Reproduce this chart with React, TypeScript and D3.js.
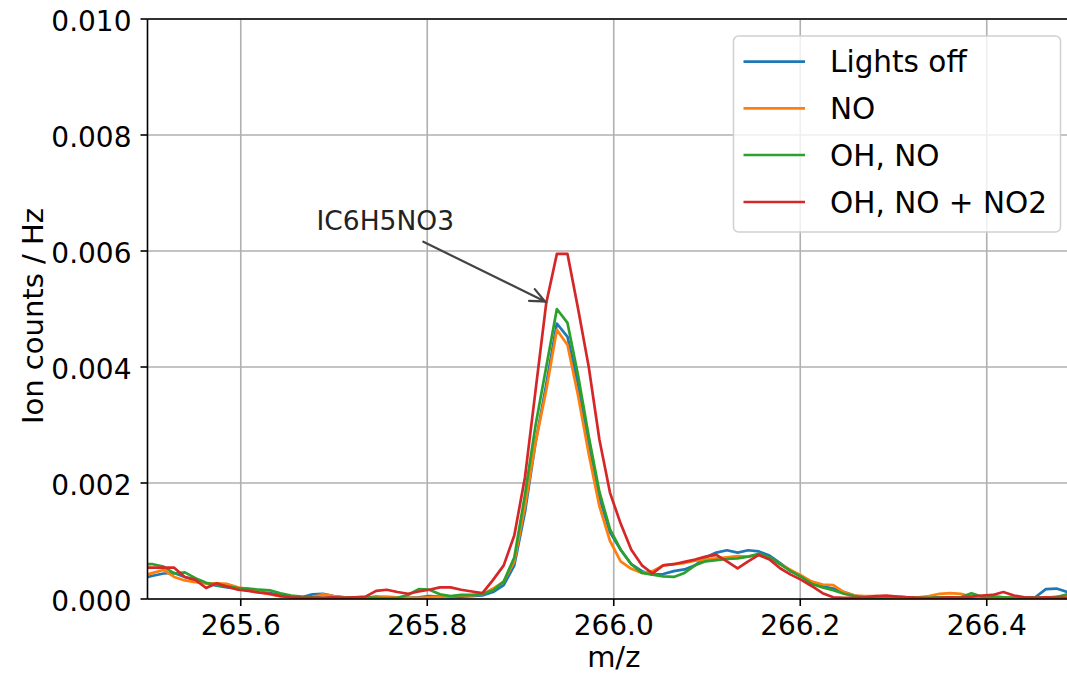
import React from "react";
import * as d3 from "d3";

const mz = [
  265.4944, 265.5058, 265.5172, 265.5286, 265.54, 265.5514, 265.5628, 265.5742, 265.5856, 265.597,
  265.6084, 265.6198, 265.6312, 265.6426, 265.654, 265.6654, 265.6768, 265.6882, 265.6996, 265.711,
  265.7224, 265.7338, 265.7452, 265.7566, 265.768, 265.7794, 265.7908, 265.8022, 265.8136, 265.825,
  265.8364, 265.8478, 265.8592, 265.8706, 265.882, 265.8934, 265.9048, 265.9162, 265.9276, 265.939,
  265.9504, 265.9618, 265.9732, 265.9846, 265.996, 266.0074, 266.0188, 266.0302, 266.0416, 266.053,
  266.0644, 266.0758, 266.0872, 266.0986, 266.11, 266.1214, 266.1328, 266.1442, 266.1556, 266.167,
  266.1784, 266.1898, 266.2012, 266.2126, 266.224, 266.2354, 266.2468, 266.2582, 266.2696, 266.281,
  266.2924, 266.3038, 266.3152, 266.3266, 266.338, 266.3494, 266.3608, 266.3722, 266.3836, 266.395,
  266.4064, 266.4178, 266.4292, 266.4406, 266.452, 266.4634, 266.4748, 266.4862, 266.4976, 266.509,
];

const lightsOff = [
  0.00036, 0.0004, 0.00044, 0.00045, 0.00038, 0.00033, 0.00027, 0.00023, 0.0002, 0.00018,
  0.00015, 0.00012, 0.0001, 0.00007, 0.00004, 0.00003, 0.00008, 0.00009, 0.00005, 0.00003,
  0.00003, 0.00002, 0.00004, 0.00003, 0.00002, 0.00002, 0.00003, 0.00005, 0.00004, 0.00003,
  0.00004, 0.00005, 0.00006, 0.00012, 0.00024, 0.00058, 0.0015, 0.0027, 0.0037, 0.00475,
  0.00452, 0.0037, 0.0027, 0.00175, 0.00115, 0.00085, 0.0006, 0.00048, 0.00042, 0.00043,
  0.00048, 0.00051, 0.00058, 0.00072, 0.0008, 0.00084, 0.0008, 0.00084, 0.00082, 0.00075,
  0.00062, 0.00048, 0.0004, 0.00027, 0.00022, 0.00018, 0.00012, 0.00006, 0.00003, 0.00003,
  0.00002, 0.00002, 0.00003, 0.00002, 0.00002, 0.00003, 0.00002, 0.00003, 0.00002, 0.00003,
  0.00004, 0.00003, 0.00002, 0.00002, 0.00003, 0.00017, 0.00018, 0.00012, 0.00008, 0.00005,
];

const noOnly = [
  0.0004, 0.00045, 0.0005, 0.00038, 0.00032, 0.00029, 0.00027, 0.00027, 0.00026, 0.0002,
  0.00017, 0.00012, 0.00008, 0.00005, 0.00003, 0.00002, 0.00003, 0.00008, 0.00005, 0.00003,
  0.00002, 0.00002, 0.00003, 0.00004, 0.00003, 0.00002, 0.00002, 0.00003, 0.00004, 0.00004,
  0.00006, 0.00006, 0.00008, 0.00018, 0.0003, 0.00065, 0.0016, 0.0027, 0.0036, 0.00464,
  0.00438, 0.0035, 0.0025, 0.0016, 0.001, 0.00065, 0.00052, 0.00045, 0.00048, 0.00058,
  0.0006, 0.00062, 0.00066, 0.00068, 0.0007, 0.00072, 0.00074, 0.00073, 0.00076, 0.0007,
  0.0006, 0.0005, 0.0004, 0.0003, 0.00025, 0.00024, 0.00012, 0.00006, 0.00005, 0.00005,
  0.00003, 0.00002, 0.00002, 0.00003, 0.00005, 0.00009, 0.0001, 0.00009, 0.00004, 0.00003,
  0.00002, 0.00003, 0.00002, 0.00003, 0.00002, 0.00002, 0.00004, 0.00006, 0.00003, 0.00002,
];

const ohNo = [
  0.0006, 0.0006, 0.00056, 0.00044, 0.00046, 0.00036, 0.00028, 0.00024, 0.00022, 0.00019,
  0.00018, 0.00016, 0.00015, 0.0001, 0.00006, 0.00004, 0.00003, 0.00002, 0.00002, 0.00002,
  0.00003, 0.00003, 0.00002, 0.00001, 0.00002, 0.00007, 0.00017, 0.00016, 0.00008, 0.00005,
  0.00007, 0.00007, 0.00008, 0.00015, 0.0003, 0.00072, 0.0018, 0.003, 0.004, 0.005,
  0.00476, 0.00385, 0.0028, 0.00185, 0.0012, 0.00085, 0.0006, 0.00045, 0.00042, 0.00039,
  0.00038, 0.00045, 0.00058, 0.00065, 0.00067, 0.00069, 0.0007, 0.00073, 0.00078, 0.00072,
  0.0006, 0.00048, 0.00038, 0.00026, 0.0002, 0.00015, 0.00009, 0.00005, 0.00003, 0.00002,
  0.00003, 0.00004, 0.00003, 0.00002, 0.00002, 0.00003, 0.00003, 0.00003, 0.0001, 0.00004,
  0.00004, 0.00003, 0.00002, 0.00003, 0.00003, 0.00002, 0.00003, 0.00008, 0.0001, 0.00006,
];

const ohNoNo2 = [
  0.00054, 0.00054, 0.00054, 0.00054, 0.00038, 0.00033, 0.00019, 0.00027, 0.00021, 0.00016,
  0.00014, 0.00011, 0.00009, 0.00005, 0.00003, 0.00002, 0.00002, 0.00002, 0.00003, 0.00002,
  0.00003, 0.00004, 0.00014, 0.00016, 0.00012, 0.00009, 0.00013, 0.00016, 0.0002, 0.0002,
  0.00016, 0.00013, 0.0001, 0.00033, 0.00058, 0.0011, 0.0021, 0.0036, 0.0051, 0.00595,
  0.00595, 0.005, 0.004, 0.00275, 0.00183, 0.0013, 0.00085, 0.00058, 0.00044, 0.00058,
  0.0006, 0.00064, 0.00068, 0.00073, 0.00076, 0.00065, 0.00053, 0.00065, 0.00076, 0.00068,
  0.00053, 0.00042, 0.00033, 0.00022, 0.0001, 0.00003, 0.00002, 0.00002, 0.00003, 0.00005,
  0.00006, 0.00004, 0.00003, 0.00002, 0.00001, 0.00002, 0.00003, 0.00002, 0.00004, 0.00006,
  0.00007, 0.00012, 0.00006, 0.00003, 0.00002, 0.00003, 0.00002, 0.00002, 0.00003, 0.00002,
];

const seriesNames = ["Lights off", "NO", "OH, NO", "OH, NO + NO2"];
const seriesValues = [lightsOff, noOnly, ohNo, ohNoNo2];
const seriesColors = ["#1f77b4", "#ff7f0e", "#2ca02c", "#d62728"];

const xTicks = [265.6, 265.8, 266.0, 266.2, 266.4];
const yTicks = [0, 0.002, 0.004, 0.006, 0.008, 0.01];

const annotationText = "IC6H5NO3";
const annotationTarget = { x: 265.9263, y: 0.00513 };
const annotationFrom = { x: 265.7958, y: 0.00616 };

const W = 1067;
const H = 674;
const left = 147.5;
const top = 19;
const bottom = 599;
const right = 1080;
const FONT = "DejaVu Sans, Verdana, sans-serif";

export default function App() {
  const x = d3.scaleLinear().domain([265.5, 266.5]).range([left, right]);
  const y = d3.scaleLinear().domain([0, 0.01]).range([bottom, top]);
  const line = d3
    .line<number>()
    .x((_, i) => x(mz[i]))
    .y((d) => y(d));

  const ax = x(annotationFrom.x);
  const ay = y(annotationFrom.y);
  const tx = x(annotationTarget.x);
  const ty = y(annotationTarget.y);
  const ang = Math.atan2(ty - ay, tx - ax);
  const hl = 16;
  const hw = 0.42;
  const h1 = [tx - hl * Math.cos(ang - hw), ty - hl * Math.sin(ang - hw)];
  const h2 = [tx - hl * Math.cos(ang + hw), ty - hl * Math.sin(ang + hw)];

  const legX = 733.5;
  const legY = 36;
  const legW = 327;
  const legH = 196;
  const rowY = [61.7, 108.3, 155, 202];

  return (
    <svg
      width={W}
      height={H}
      style={{ position: "absolute", left: 0, top: 0, background: "#fff" }}
      fontFamily={FONT}
    >
      <defs>
        <clipPath id="plotClip">
          <rect x={left} y={top} width={right - left} height={bottom - top} />
        </clipPath>
      </defs>
      <rect x={0} y={0} width={W} height={H} fill="#fff" />
      {/* grid */}
      {xTicks.map((t) => (
        <line key={"gx" + t} x1={x(t)} x2={x(t)} y1={top} y2={bottom} stroke="#b0b0b0" strokeWidth={1.6} />
      ))}
      {yTicks.map((t) => (
        <line key={"gy" + t} x1={left} x2={right} y1={y(t)} y2={y(t)} stroke="#b0b0b0" strokeWidth={1.6} />
      ))}
      {/* series */}
      <g clipPath="url(#plotClip)">
        {seriesValues.map((vals, k) => (
          <path
            key={seriesNames[k]}
            d={line(vals) || ""}
            fill="none"
            stroke={seriesColors[k]}
            strokeWidth={2.7}
            strokeLinejoin="round"
            strokeLinecap="square"
          />
        ))}
      </g>
      {/* spines */}
      <line x1={left} x2={left} y1={top} y2={bottom} stroke="#000" strokeWidth={1.6} />
      <line x1={left} x2={right} y1={bottom} y2={bottom} stroke="#000" strokeWidth={1.6} />
      <line x1={left} x2={right} y1={top} y2={top} stroke="#000" strokeWidth={1.6} />
      {/* x ticks */}
      {xTicks.map((t) => (
        <g key={"xt" + t}>
          <line x1={x(t)} x2={x(t)} y1={bottom} y2={bottom + 7} stroke="#000" strokeWidth={1.6} />
          <text x={x(t)} y={bottom + 36} textAnchor="middle" fontSize={28} fill="#000">
            {d3.format(".1f")(t)}
          </text>
        </g>
      ))}
      {/* y ticks */}
      {yTicks.map((t) => (
        <g key={"yt" + t}>
          <line x1={left - 7} x2={left} y1={y(t)} y2={y(t)} stroke="#000" strokeWidth={1.6} />
          <text x={left - 16} y={y(t) + 12} textAnchor="end" fontSize={28} fill="#000">
            {d3.format(".3f")(t)}
          </text>
        </g>
      ))}
      {/* axis labels */}
      <text x={x(266.0)} y={667} textAnchor="middle" fontSize={29} fill="#000">
        m/z
      </text>
      <text
        transform={`translate(43, 316) rotate(-90)`}
        textAnchor="middle"
        fontSize={29}
        fill="#000"
      >
        Ion counts / Hz
      </text>
      {/* annotation */}
      <text x={316.5} y={230} fontSize={26.5} fill="#222">
        {annotationText}
      </text>
      <g stroke="#444" strokeWidth={2.2} fill="none" strokeLinecap="round">
        <line x1={ax} y1={ay} x2={tx} y2={ty} />
        <polyline points={`${h1[0]},${h1[1]} ${tx},${ty} ${h2[0]},${h2[1]}`} />
      </g>
      {/* legend */}
      <rect
        x={legX}
        y={legY}
        width={legW}
        height={legH}
        rx={5}
        ry={5}
        fill="#fff"
        fillOpacity={0.8}
        stroke="#d0d0d0"
        strokeWidth={1.5}
      />
      {seriesNames.map((name, k) => (
        <g key={"lg" + name}>
          <line x1={743.5} x2={805} y1={rowY[k]} y2={rowY[k]} stroke={seriesColors[k]} strokeWidth={2.7} />
          <text x={830} y={rowY[k] + 10.5} fontSize={29.5} fill="#000">
            {name}
          </text>
        </g>
      ))}
    </svg>
  );
}
